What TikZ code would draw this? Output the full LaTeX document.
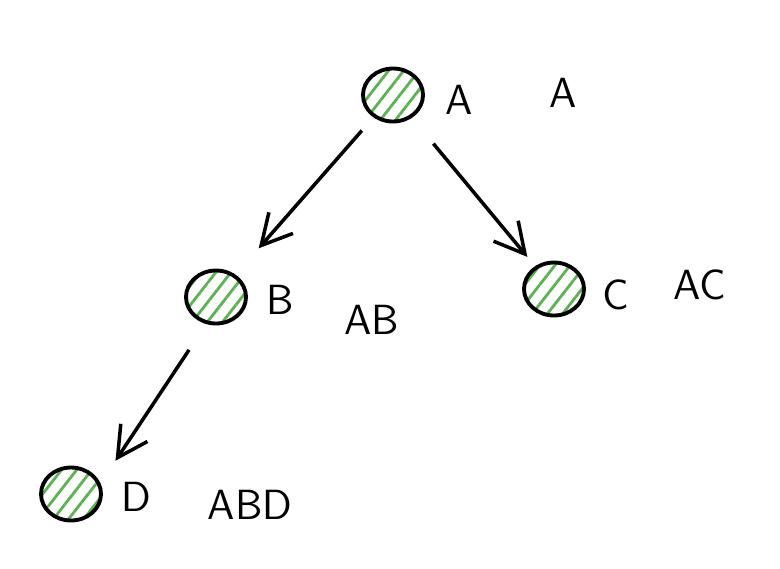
\documentclass[tikz,border=0pt]{standalone}
\usetikzlibrary{arrows.meta,shapes.geometric,patterns.meta}
\definecolor{hatchgreen}{RGB}{90,180,80}
\tikzset{
	vertex/.style={ellipse, draw=black, line width=1.1pt, inner sep=0pt,
		minimum width=6mm, minimum height=5.3mm,
		pattern={Lines[angle=52, distance=3.4pt, line width=0.8pt]}, pattern color=hatchgreen},
	lbl/.style={font=\large\sffamily, inner sep=1pt},
	edge/.style={line width=1pt, -{Straight Barb[length=3mm, width=3.2mm]}},
}
\begin{document}
\begin{tikzpicture}[x=0.1mm, y=-0.1mm]
			\useasboundingbox (0,0) rectangle (780,568);
			% tree nodes
			\node[vertex] (a) at (393,95) {};
			\node[vertex] (b) at (216,297) {};
			\node[vertex] (c) at (554,289) {};
			\node[vertex] (d) at (71,494) {};
			% names and paths
			\node[lbl] (alab) at (459,100) {A};
			\node[lbl] (apath) at (563,93) {A};
			\node[lbl] (blab) at (280,300) {B};
			\node[lbl] (bpath) at (372,320) {AB};
			\node[lbl] (clab) at (616,295) {C};
			\node[lbl] (cpath) at (700,285) {AC};
			\node[lbl] (dlab) at (136,497) {D};
			\node[lbl] (dpath) at (250,505) {ABD};
			% edges
			\draw[edge, shorten <=1.8mm, shorten >=3.5mm] (a) -- (b);
			\draw[edge, shorten <=3.4mm, shorten >=1.2mm] (a) -- (c);
			\draw[edge, shorten <=3.1mm, shorten >=2.7mm] (b.250) -- (d.20);
		\end{tikzpicture}
\end{document}
